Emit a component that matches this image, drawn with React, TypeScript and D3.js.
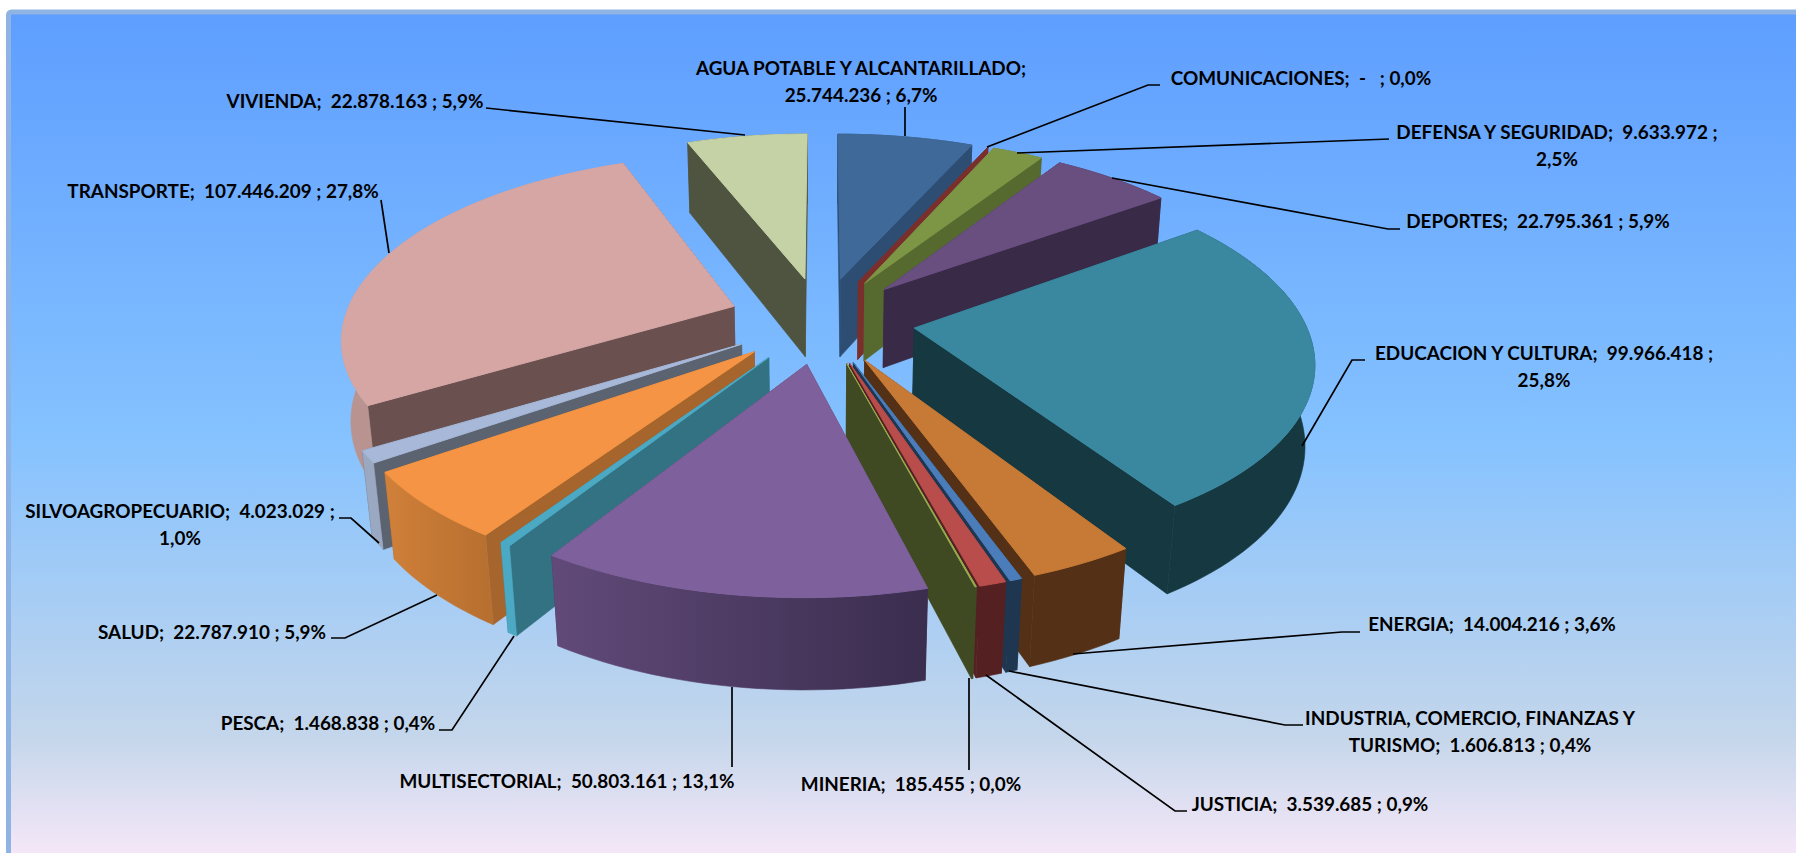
import React, { useEffect, useRef } from 'react';
import * as d3 from 'd3';

const names = [
  'AGUA POTABLE Y ALCANTARILLADO',
  'COMUNICACIONES',
  'DEFENSA Y SEGURIDAD',
  'DEPORTES',
  'EDUCACION Y CULTURA',
  'ENERGIA',
  'INDUSTRIA, COMERCIO, FINANZAS Y TURISMO',
  'JUSTICIA',
  'MINERIA',
  'MULTISECTORIAL',
  'PESCA',
  'SALUD',
  'SILVOAGROPECUARIO',
  'TRANSPORTE',
  'VIVIENDA',
];
const values = [
  25744236, 0, 9633972, 22795361, 99966418, 14004216, 1606813, 3539685, 185455, 50803161, 1468838,
  22787910, 4023029, 107446209, 22878163,
];
const labelLines = [
  ['AGUA POTABLE Y ALCANTARILLADO;', '25.744.236 ; 6,7%'],
  ['COMUNICACIONES;  -   ; 0,0%'],
  ['DEFENSA Y SEGURIDAD;  9.633.972 ;', '2,5%'],
  ['DEPORTES;  22.795.361 ; 5,9%'],
  ['EDUCACION Y CULTURA;  99.966.418 ;', '25,8%'],
  ['ENERGIA;  14.004.216 ; 3,6%'],
  ['INDUSTRIA, COMERCIO, FINANZAS Y', 'TURISMO;  1.606.813 ; 0,4%'],
  ['JUSTICIA;  3.539.685 ; 0,9%'],
  ['MINERIA;  185.455 ; 0,0%'],
  ['MULTISECTORIAL;  50.803.161 ; 13,1%'],
  ['PESCA;  1.468.838 ; 0,4%'],
  ['SALUD;  22.787.910 ; 5,9%'],
  ['SILVOAGROPECUARIO;  4.023.029 ;', '1,0%'],
  ['TRANSPORTE;  107.446.209 ; 27,8%'],
  ['VIVIENDA;  22.878.163 ; 5,9%'],
];

// colours per slice: top face, cut faces, rim left and right
const topColors = ['#3f6998', '#7a2f2c', '#7d9646', '#684f80', '#3a88a0', '#c67a36', '#4b7dba', '#b94d4b', '#97ad4f', '#7e619c', '#4ca9c4', '#f49444', '#a7b8d8', '#d6a6a5', '#c4d2a6'];
const cutColors = ['#2d4d73', '#7a2f2c', '#566a30', '#392a47', '#163841', '#533016', '#1f3650', '#552022', '#404a22', '#45345a', '#327283', '#a5652c', '#5b6270', '#6a5150', '#4f5440'];
const rimLeft = ['#2d4d73', '#7a2f2c', '#566a30', '#392a47', '#163841', '#533016', '#1f3650', '#552022', '#404a22', '#614a79', '#4ca9c4', '#d08039', '#9aa8c2', '#b89390', '#4f5440'];
const rimRight = ['#2d4d73', '#7a2f2c', '#566a30', '#392a47', '#163841', '#533016', '#1f3650', '#552022', '#404a22', '#3a2d4e', '#4ca9c4', '#b87030', '#9aa8c2', '#bd9794', '#4f5440'];

// label layout: centre x and baseline of the first line
const labelX = [861, 1301, 1557, 1538, 1544, 1492, 1470, 1310, 911, 567, 328, 212, 180, 223, 355];
const labelY = [75, 85, 139, 228, 360, 631, 725, 811, 791, 788, 730, 639, 518, 198, 108];

// leader lines, from the label to the slice
const leaders: [number, number][][] = [
  [[905, 107], [905, 136]],
  [[1160, 85], [1148, 85], [987, 147]],
  [[1389, 139], [1017, 153]],
  [[1400, 229], [1388, 229], [1112, 178]],
  [[1365, 360], [1352, 360], [1302, 446]],
  [[1360, 632], [1342, 632], [1073, 654]],
  [[1303, 725], [1285, 725], [1009, 671]],
  [[1187, 811], [1175, 811], [986, 675]],
  [[969, 770], [969, 678]],
  [[732, 767], [732, 687]],
  [[439, 730], [452, 730], [514, 636]],
  [[331, 638], [345, 638], [437, 595]],
  [[339, 518], [351, 518], [379, 543]],
  [[381, 200], [389, 253]],
  [[486, 108], [745, 135]],
];

const width = 1796;
const height = 853;

// camera
const cx = 821.6;
const cy = 320;
const focal = 2168;
const dist = 5.56;
const sinE = 0.462;
const cosE = Math.sqrt(1 - sinE * sinE);
const explode = 0.24;
const depth = 0.235;

const project = (x: number, y: number, z: number): [number, number] => {
  const w = dist - y * cosE - z * sinE;
  return [cx + (focal * x) / w, cy + (focal * (y * sinE - z * cosE)) / w];
};

const line = d3.line();
const esc = (a: number) => Math.min(a, Math.PI * 2 - a);

const App = () => {
  const ref = useRef<SVGSVGElement>(null);

  useEffect(() => {
    const svg = d3.select(ref.current);
    svg.selectAll('*').remove();

    const defs = svg.append('defs');
    const bg = defs
      .append('linearGradient')
      .attr('id', 'bg')
      .attr('gradientUnits', 'userSpaceOnUse')
      .attr('x1', 0)
      .attr('x2', 0)
      .attr('y1', 14)
      .attr('y2', 880);
    [
      [0, '#5e9eff'],
      [0.49, '#85c2ff'],
      [0.833, '#c4d6eb'],
      [1, '#ffebfa'],
    ].forEach(([o, c]) => bg.append('stop').attr('offset', o).attr('stop-color', c));

    svg.append('rect').attr('width', width).attr('height', height).attr('fill', '#fff');
    svg
      .append('rect')
      .attr('x', 8.5)
      .attr('y', 12)
      .attr('width', width)
      .attr('height', height + 40)
      .attr('rx', 3)
      .attr('fill', 'url(#bg)')
      .attr('stroke', '#8fb4e3')
      .attr('stroke-width', 5);

    const arcs = d3.pie<number>().sort(null)(values);

    const slices = arcs
      .map((a, i) => {
        const mid = (a.startAngle + a.endAngle) / 2;
        return {
          i,
          start: a.startAngle,
          end: a.endAngle,
          mid,
          ox: explode * Math.sin(mid),
          oy: -explode * Math.cos(mid),
        };
      })
      // back to front, the way the slices hide each other
      .sort((p, q) => esc(p.mid) - esc(q.mid));

    const pieG = svg.append('g');
    slices.forEach((s) => {
      const at = (t: number, r: number, z: number) =>
        project(s.ox + r * Math.sin(t), s.oy - r * Math.cos(t), z);
      const steps = Math.max(2, Math.ceil((s.end - s.start) / 0.03));
      const angles = d3.range(steps + 1).map((k) => s.start + ((s.end - s.start) * k) / steps);
      const g = pieG.append('g');

      // cut faces
      [s.start, s.end].forEach((t) => {
        g.append('path')
          .attr('d', line([at(t, 0, 0), at(t, 1, 0), at(t, 1, -depth), at(t, 0, -depth)]) + 'Z')
          .attr('fill', cutColors[s.i])
          .attr('stroke', cutColors[s.i])
          .attr('stroke-width', 0.6);
      });

      // rim
      const topRim = angles.map((t) => at(t, 1, 0));
      const botRim = angles.map((t) => at(t, 1, -depth)).reverse();
      const xs = d3.extent(topRim, (p) => p[0]) as [number, number];
      const id = `rim${s.i}`;
      const grad = defs
        .append('linearGradient')
        .attr('id', id)
        .attr('gradientUnits', 'userSpaceOnUse')
        .attr('x1', xs[0])
        .attr('x2', xs[1] + 0.01)
        .attr('y1', 0)
        .attr('y2', 0);
      grad.append('stop').attr('offset', 0).attr('stop-color', rimLeft[s.i]);
      grad.append('stop').attr('offset', 1).attr('stop-color', rimRight[s.i]);
      g.append('path')
        .attr('d', line([...topRim, ...botRim]) + 'Z')
        .attr('fill', `url(#${id})`)
        .attr('stroke', `url(#${id})`)
        .attr('stroke-width', 0.6);

      // top
      if (values[s.i] > 0) {
        g.append('path')
          .attr('d', line([at(s.start, 0, 0), ...topRim]) + 'Z')
          .attr('fill', topColors[s.i])
          .attr('stroke', topColors[s.i])
          .attr('stroke-width', 1);
      }
    });

    const leaderG = svg.append('g');
    leaders.forEach((pts) => {
      leaderG
        .append('path')
        .attr('d', line(pts))
        .attr('fill', 'none')
        .attr('stroke', '#000')
        .attr('stroke-width', 1.7);
    });

    const labelG = svg
      .append('g')
      .attr('font-family', 'Lato, "Open Sans", sans-serif')
      .attr('font-weight', 700)
      .attr('font-size', 18.9)
      .attr('fill', '#000')
      .attr('text-anchor', 'middle');
    names.forEach((name, i) => {
      labelLines[i].forEach((txt, k) => {
        labelG
          .append('text')
          .attr('x', labelX[i])
          .attr('y', labelY[i] + k * 26.5)
          .attr('data-name', name)
          .attr('xml:space', 'preserve')
          .style('white-space', 'pre')
          .text(txt);
      });
    });
  }, []);

  return (
    <svg
      ref={ref}
      width={width}
      height={height}
      style={{ position: 'absolute', left: 0, top: 0, display: 'block' }}
    />
  );
};

export default App;
